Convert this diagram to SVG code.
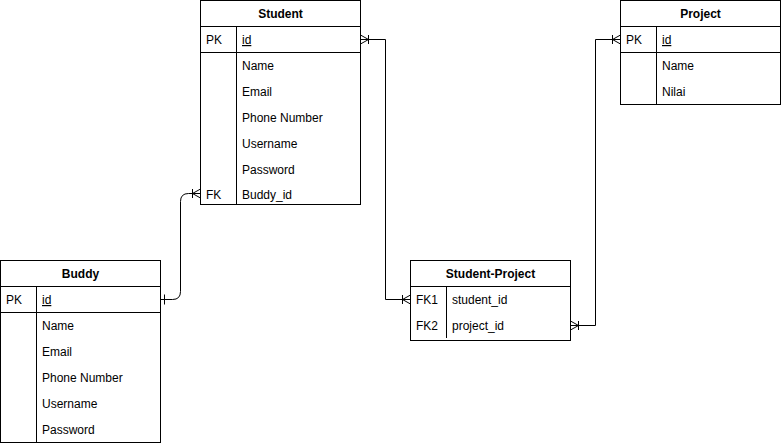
<svg xmlns="http://www.w3.org/2000/svg" width="781" height="446" viewBox="0 0 781 446">
<style>
.box{fill:#fff;stroke:#000;stroke-width:1}
.ln{stroke:#000;stroke-width:1;fill:none}
text{font-family:"Liberation Sans",Arial,sans-serif;font-size:12px;fill:#000}
.t{font-weight:bold;text-anchor:middle}
.u{text-decoration:underline}
</style>
<rect width="781" height="446" fill="#fff"/>
<g id="connectors" class="ln">
  <path d="M360.5,39.5 H385.5 V299.5 H410.5"/>
  <path d="M570.5,325.5 H595.5 V39.5 H620.5"/>
  <path d="M200.5,193.5 H188.5 Q180.5,193.5 180.5,201.5 V291.5 Q180.5,299.5 172.5,299.5 H160.5"/>
  <path d="M360.5,35 L368.5,39.5 L360.5,44 M368.5,35 V44"/>
  <path d="M410.5,295 L402.5,299.5 L410.5,304 M402.5,295 V304"/>
  <path d="M570.5,321 L578.5,325.5 L570.5,330 M578.5,321 V330"/>
  <path d="M620.5,35 L612.5,39.5 L620.5,44 M612.5,35 V44"/>
  <path d="M200.5,189 L192.5,193.5 L200.5,198 M192.5,189 V198"/>
  <path d="M164.5,294.5 V304.5"/>
</g>
<g id="student">
  <rect class="box" x="200.5" y="0.5" width="160" height="204"/>
  <path class="ln" d="M200.5,26.5 H360.5 M200.5,52.5 H360.5 M236.5,26.5 V204.5"/>
  <text class="t" x="280.5" y="18">Student</text>
  <text x="206" y="44">PK</text>
  <text class="u" x="242" y="44">id</text>
  <text x="242" y="70">Name</text>
  <text x="242" y="96">Email</text>
  <text x="242" y="122">Phone Number</text>
  <text x="242" y="148">Username</text>
  <text x="242" y="174">Password</text>
  <text x="206" y="199">FK</text>
  <text x="242" y="199">Buddy_id</text>
</g>
<g id="buddy">
  <rect class="box" x="0.5" y="260.5" width="160" height="182"/>
  <path class="ln" d="M0.5,286.5 H160.5 M0.5,312.5 H160.5 M36.5,286.5 V442.5"/>
  <text class="t" x="80.5" y="278">Buddy</text>
  <text x="6" y="304">PK</text>
  <text class="u" x="42" y="304">id</text>
  <text x="42" y="330">Name</text>
  <text x="42" y="356">Email</text>
  <text x="42" y="382">Phone Number</text>
  <text x="42" y="408">Username</text>
  <text x="42" y="434">Password</text>
</g>
<g id="student-project">
  <rect class="box" x="410.5" y="260.5" width="160" height="80"/>
  <path class="ln" d="M410.5,286.5 H570.5 M446.5,286.5 V338"/>
  <text class="t" x="490.5" y="278">Student-Project</text>
  <text x="416" y="304">FK1</text>
  <text x="452" y="304">student_id</text>
  <text x="416" y="330">FK2</text>
  <text x="452" y="330">project_id</text>
</g>
<g id="project">
  <rect class="box" x="620.5" y="0.5" width="160" height="104"/>
  <path class="ln" d="M620.5,26.5 H780.5 M620.5,52.5 H780.5 M656.5,26.5 V104.5"/>
  <text class="t" x="700.5" y="18">Project</text>
  <text x="626" y="44">PK</text>
  <text class="u" x="662" y="44">id</text>
  <text x="662" y="70">Name</text>
  <text x="662" y="96">Nilai</text>
</g>
</svg>
